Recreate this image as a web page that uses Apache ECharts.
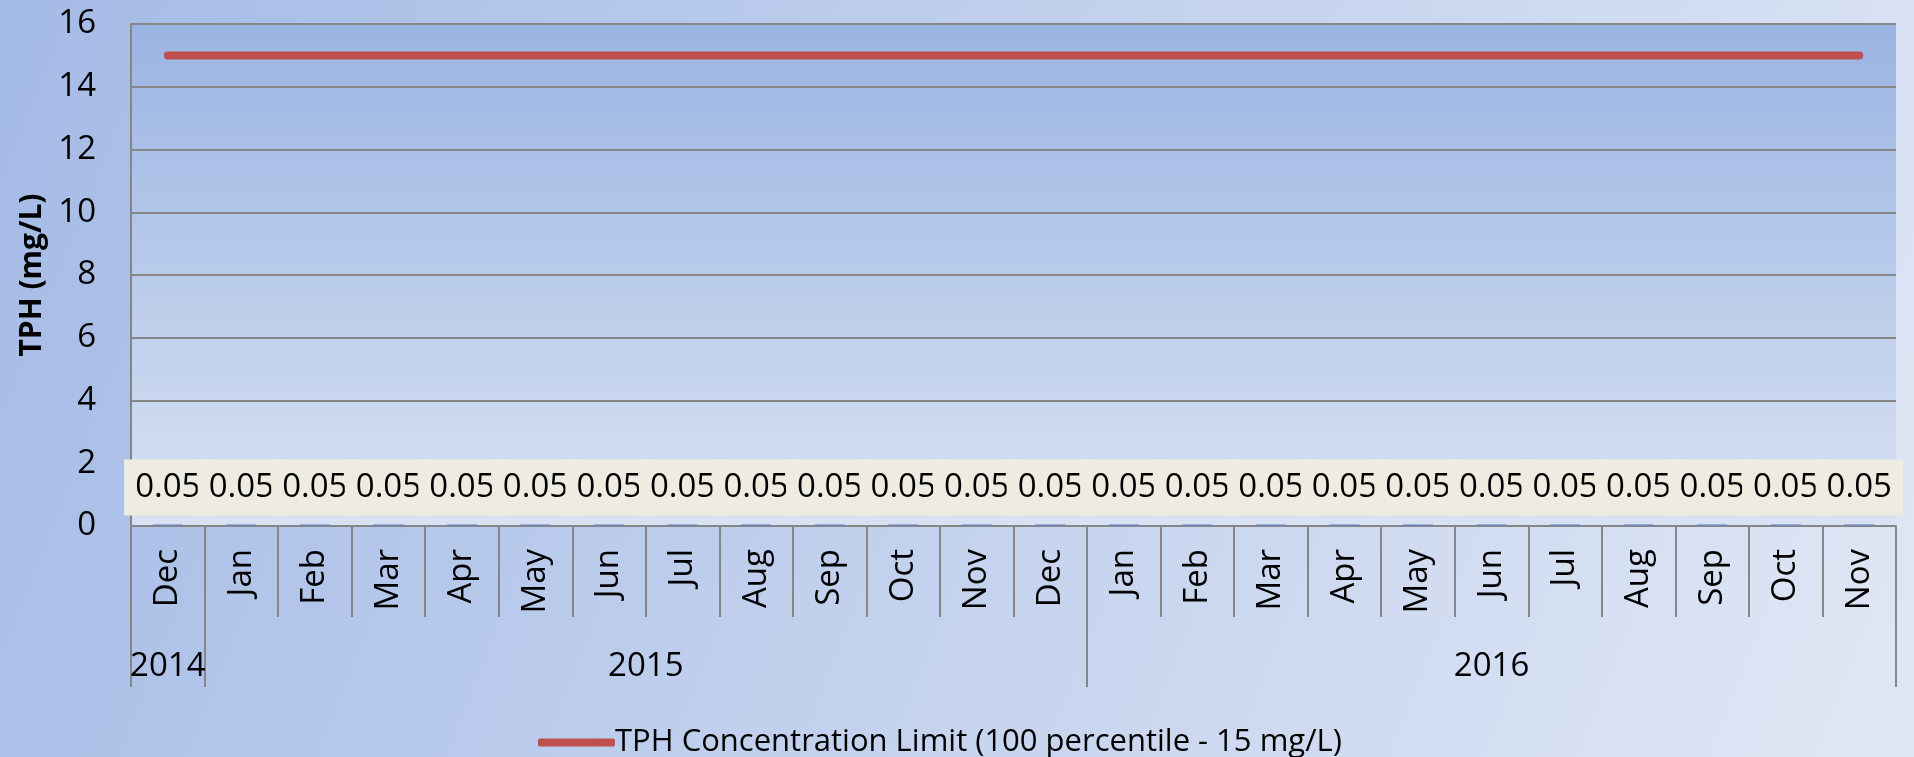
<!DOCTYPE html>
<html>
<head>
<meta charset="utf-8">
<script src="https://cdn.jsdelivr.net/npm/echarts@6/dist/echarts.min.js"></script>
<style>
  html, body { margin: 0; padding: 0; }
  #main { width: 1914px; height: 757px; }
</style>
</head>
<body>
<div id="main"></div>
<script>
// month categories, Dec 2014 .. Nov 2016
var months = ['Dec', 'Jan', 'Feb', 'Mar', 'Apr', 'May', 'Jun', 'Jul', 'Aug', 'Sep', 'Oct', 'Nov',
  'Dec', 'Jan', 'Feb', 'Mar', 'Apr', 'May', 'Jun', 'Jul', 'Aug', 'Sep', 'Oct', 'Nov']
var years = ['2014', '2015', '2016']
// first and last+1 month index of each year group
var yearStart = [0, 1, 13]
var yearEnd = [1, 13, 24]

var tphValues = [0.05, 0.05, 0.05, 0.05, 0.05, 0.05, 0.05, 0.05, 0.05, 0.05, 0.05, 0.05,
  0.05, 0.05, 0.05, 0.05, 0.05, 0.05, 0.05, 0.05, 0.05, 0.05, 0.05, 0.05]
var limitValues = [15, 15, 15, 15, 15, 15, 15, 15, 15, 15, 15, 15,
  15, 15, 15, 15, 15, 15, 15, 15, 15, 15, 15, 15]
var yTicks = [0, 2, 4, 6, 8, 10, 12, 14, 16]

var limitName = 'TPH Concentration Limit (100 percentile - 15 mg/L)'
var grey = '#868686'
var font = '"Open Sans", sans-serif'

// year group boundaries and centres on the second (value) axis
var yearTicks = [yearStart[0]].concat(yearEnd)
var yearCentres = yearStart.map(function (s, i) { return (s + yearEnd[i]) / 2 })

var chart = echarts.init(document.getElementById('main'))

var option = {
  backgroundColor: {
    type: 'linear', x: 0, y: 0, x2: 1, y2: 1,
    colorStops: [
      { offset: 0, color: '#A4BBE6' },
      { offset: 1, color: '#E0E7F5' },
    ],
  },
  textStyle: { fontFamily: font },
  grid: {
    left: 131,
    right: 18,
    top: 24,
    bottom: 231,
    show: true,
    borderWidth: 0,
    backgroundColor: {
      type: 'linear', x: 0, y: 0, x2: 0, y2: 1,
      colorStops: [
        { offset: 0, color: '#9AB4E2' },
        { offset: 1, color: '#D8E2F3' },
      ],
    },
  },
  legend: {
    data: [limitName],
    left: 533,
    top: 722,
    itemWidth: 77,
    itemHeight: 8,
    itemGap: 4,
    icon: 'roundRect',
    textStyle: {
      fontFamily: font,
      fontSize: 31,
      color: '#000',
      padding: [0, 0, 0, -5],
    },
  },
  xAxis: [
    {
      type: 'category',
      data: months,
      position: 'bottom',
      axisLine: { lineStyle: { color: grey, width: 2 } },
      axisTick: { show: true, interval: 0, length: 91, lineStyle: { color: grey, width: 2 } },
      axisLabel: {
        interval: 0,
        rotate: 90,
        margin: 23,
        fontSize: 33,
        color: '#000',
        fontFamily: font,
      },
    },
    {
      type: 'value',
      min: 0,
      max: months.length,
      position: 'bottom',
      offset: 91,
      axisLine: { show: false },
      splitLine: { show: false },
      axisTick: {
        show: true,
        customValues: yearTicks,
        length: 70,
        lineStyle: { color: grey, width: 2 },
      },
      axisLabel: {
        customValues: yearCentres,
        margin: 33,
        fontSize: 33,
        color: '#000',
        fontFamily: font,
        formatter: function (v) {
          var i = yearCentres.indexOf(v)
          return i >= 0 ? years[i] : ''
        },
      },
    },
  ],
  yAxis: {
    type: 'value',
    min: yTicks[0],
    max: yTicks[yTicks.length - 1],
    interval: 2,
    name: 'TPH (mg/L)',
    nameLocation: 'middle',
    nameGap: 84,
    nameTextStyle: { fontSize: 30, fontWeight: 'bold', color: '#000', fontFamily: font },
    axisLine: { show: true, lineStyle: { color: grey, width: 2 } },
    axisTick: { show: false },
    splitLine: { lineStyle: { color: grey, width: 2 } },
    axisLabel: { fontSize: 33, margin: 35, color: '#000', fontFamily: font },
  },
  series: [
    {
      name: 'TPH',
      type: 'bar',
      xAxisIndex: 0,
      data: tphValues,
      barWidth: 30,
      itemStyle: { color: '#6F87B8' },
      label: {
        show: true,
        position: 'top',
        distance: 9,
        fontSize: 33,
        lineHeight: 34,
        color: '#000',
        fontFamily: font,
        backgroundColor: '#EEECE1',
        padding: [11, 11, 11, 11],
      },
      z: 3,
    },
    {
      name: limitName,
      type: 'line',
      xAxisIndex: 0,
      data: limitValues,
      symbol: 'none',
      itemStyle: { color: '#C0504D' },
      lineStyle: { color: '#C0504D', width: 8, cap: 'round' },
      z: 4,
    },
  ],
}

chart.setOption(option)

window.addEventListener('resize', function () {
  chart.resize()
})
</script>
</body>
</html>
